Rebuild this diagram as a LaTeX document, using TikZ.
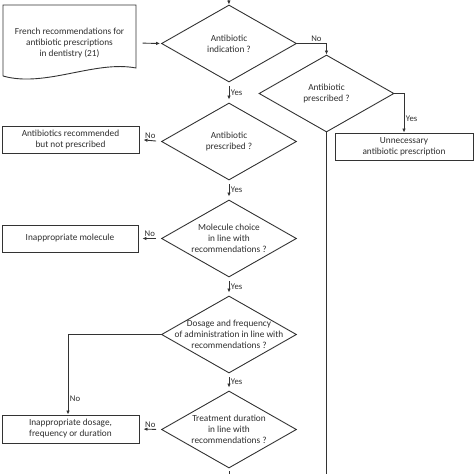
\documentclass[tikz,border=0pt]{standalone}
\usepackage{fontspec}
\setmainfont{Carlito}
\usetikzlibrary{shapes.geometric,arrows.meta}
\definecolor{lc}{HTML}{333333}
\definecolor{tc}{HTML}{2E2E2E}
\begin{document}
\begin{tikzpicture}[x=1pt,y=-1pt,
  line/.style={draw=lc, line width=0.9pt},
  arr/.style={line, -{Latex[length=4pt,width=3.5pt]}},
  txt/.style={text=tc, font=\fontsize{9.3}{11}\selectfont, align=center},
  dia/.style={diamond, draw=lc, line width=0.9pt, minimum width=135pt, minimum height=77pt, inner sep=0pt},
  box/.style={draw=lc, line width=0.9pt, minimum height=27pt, inner sep=0pt, txt},
  lab/.style={text=tc, font=\fontsize{8.7}{10}\selectfont, inner sep=1.5pt}]
\useasboundingbox (0,0) rectangle (474,474);

% document shape
\draw[line] (3,76) -- (3,5) -- (136,5) -- (136,68)
  .. controls (95,60) and (45,88) .. (3,76);
\node[txt, minimum width=133pt] (doc) at (69.5,43) {French recommendations for\\antibiotic prescriptions\\in dentistry (21)};

% diamonds
\node[dia, label={[txt]center:Antibiotic\\indication ?}] (d1) at (229,43.5) {};
\node[dia, label={[txt]center:Antibiotic\\prescribed ?}] (d2) at (229,141.5) {};
\node[dia, label={[txt]center:Molecule choice\\in line with\\recommendations ?}] (d3) at (229,238.5) {};
\node[dia, label={[txt]center:Dosage and frequency\\of administration in line with\\recommendations ?}] (d4) at (229,334.5) {};
\node[dia, label={[txt]center:Treatment duration\\in line with\\recommendations ?}] (d5) at (229,429.5) {};
\node[dia, label={[txt]center:Antibiotic\\prescribed ?}] (dr) at (326.5,93.5) {};

% boxes
\node[box, minimum width=137pt] (b1) at (70.5,139.5) {Antibiotics recommended\\but not prescribed};
\node[box, minimum width=136pt] (b2) at (70,238.5) {Inappropriate molecule};
\node[box, minimum width=137pt, minimum height=28pt] (b3) at (70.5,429) {Inappropriate dosage,\\frequency or duration};
\node[box, minimum width=138pt] (bu) at (404,146.5) {Unnecessary\\antibiotic prescription};

\coordinate (top) at (228.5,-6);
\coordinate (bot) at (229,478);
\coordinate (rbot) at (326.5,478);

% connectors
\draw[arr] (top) -- (d1.north);
\draw[arr, shorten <=6.5pt, shorten >=1pt] (doc.east) -- (d1.west);
\draw[arr, shorten <=4pt, shorten >=3pt] (d1.south) -- node[lab, right]{Yes} (d2.north);
\draw[arr, shorten <=4pt, shorten >=3pt] (d2.south) -- node[lab, right]{Yes} (d3.north);
\draw[arr, shorten <=4pt, shorten >=3pt] (d3.south) -- node[lab, right]{Yes} (d4.north);
\draw[arr, shorten <=4pt, shorten >=3pt] (d4.south) -- node[lab, right]{Yes} (d5.north);
\draw[line, shorten <=3pt] (d5.south) -- (bot);

\draw[arr, shorten <=5pt, shorten >=4pt] (d2.west) -- node[lab, above]{No} (b1.east);
\draw[arr, shorten <=5pt, shorten >=4pt] (d3.west) -- node[lab, above]{No} (b2.east);
\draw[arr, shorten <=5pt, shorten >=4pt] (d5.west) -- node[lab, above]{No} (b3.east);

\draw[arr] (d1.east) -| node[lab, above, pos=0.33]{No} (dr.north);
\draw[arr] (dr.east) -| node[lab, right, pos=0.82]{Yes} (bu.north);
\draw[line] (dr.south) -- (rbot);
\draw[arr] (d4.west) -| node[lab, right, pos=0.9]{No} ([xshift=-2.5pt]b3.north);
\end{tikzpicture}
\end{document}
